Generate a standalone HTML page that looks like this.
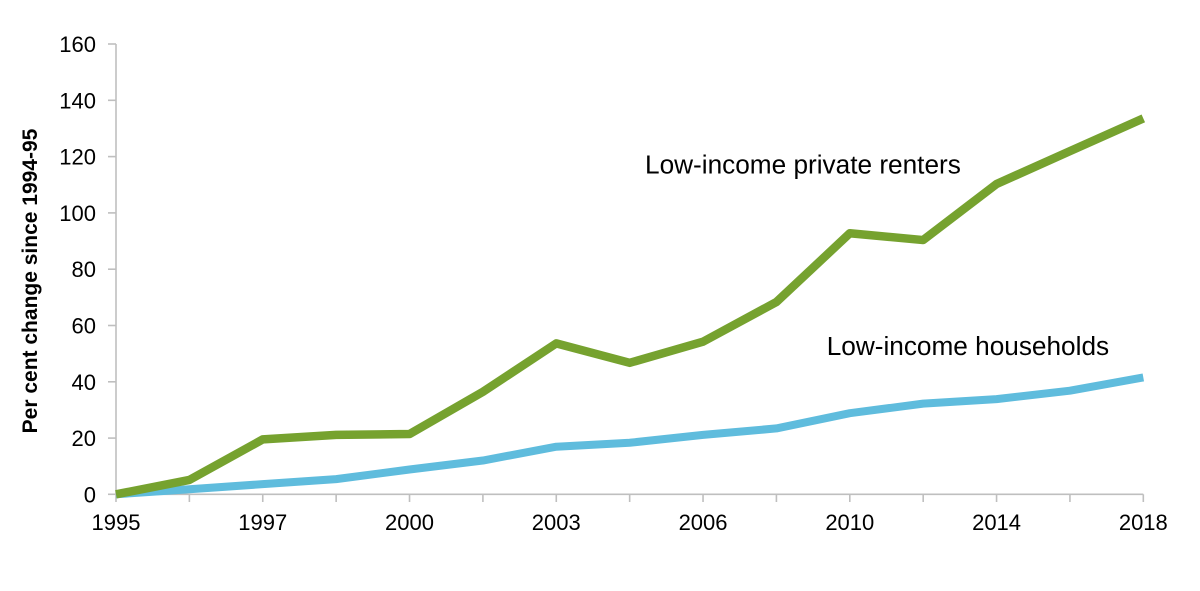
<!DOCTYPE html>
<html>
<head>
<meta charset="utf-8">
<style>
html,body{margin:0;padding:0;background:#fff;}
svg{display:block;}
text{font-family:"Liberation Sans",Arial,sans-serif;fill:#000;}
</style>
</head>
<body>
<svg width="1200" height="591" viewBox="0 0 1200 591" xmlns="http://www.w3.org/2000/svg">
<rect width="1200" height="591" fill="#fff"/>
<!-- axes -->
<g stroke="#BFBFBF" stroke-width="1.6" fill="none">
<line x1="116" y1="44" x2="116" y2="494.3"/>
<line x1="116" y1="494.3" x2="1143.3" y2="494.3"/>
<!-- y ticks -->
<line x1="108" y1="44" x2="116" y2="44"/>
<line x1="108" y1="100.3" x2="116" y2="100.3"/>
<line x1="108" y1="156.6" x2="116" y2="156.6"/>
<line x1="108" y1="212.9" x2="116" y2="212.9"/>
<line x1="108" y1="269.2" x2="116" y2="269.2"/>
<line x1="108" y1="325.5" x2="116" y2="325.5"/>
<line x1="108" y1="381.8" x2="116" y2="381.8"/>
<line x1="108" y1="438.1" x2="116" y2="438.1"/>
<line x1="108" y1="494.3" x2="116" y2="494.3"/>
<!-- x ticks -->
<line x1="116" y1="494.3" x2="116" y2="502"/>
<line x1="189.38" y1="494.3" x2="189.38" y2="502"/>
<line x1="262.76" y1="494.3" x2="262.76" y2="502"/>
<line x1="336.14" y1="494.3" x2="336.14" y2="502"/>
<line x1="409.52" y1="494.3" x2="409.52" y2="502"/>
<line x1="482.9" y1="494.3" x2="482.9" y2="502"/>
<line x1="556.28" y1="494.3" x2="556.28" y2="502"/>
<line x1="629.66" y1="494.3" x2="629.66" y2="502"/>
<line x1="703.04" y1="494.3" x2="703.04" y2="502"/>
<line x1="776.42" y1="494.3" x2="776.42" y2="502"/>
<line x1="849.8" y1="494.3" x2="849.8" y2="502"/>
<line x1="923.18" y1="494.3" x2="923.18" y2="502"/>
<line x1="996.56" y1="494.3" x2="996.56" y2="502"/>
<line x1="1069.94" y1="494.3" x2="1069.94" y2="502"/>
<line x1="1143.32" y1="494.3" x2="1143.32" y2="502"/>
</g>
<!-- y labels -->
<g font-size="22" text-anchor="end">
<text x="96" y="52">160</text>
<text x="96" y="108.3">140</text>
<text x="96" y="164.6">120</text>
<text x="96" y="220.9">100</text>
<text x="96" y="277.2">80</text>
<text x="96" y="333.5">60</text>
<text x="96" y="389.8">40</text>
<text x="96" y="446.1">20</text>
<text x="96" y="502.3">0</text>
</g>
<!-- x labels -->
<g font-size="22" text-anchor="middle">
<text x="116" y="530">1995</text>
<text x="262.76" y="530">1997</text>
<text x="409.52" y="530">2000</text>
<text x="556.28" y="530">2003</text>
<text x="703.04" y="530">2006</text>
<text x="849.8" y="530">2010</text>
<text x="996.56" y="530">2014</text>
<text x="1143.32" y="530">2018</text>
</g>
<!-- y axis title -->
<text transform="translate(37,281) rotate(-90)" font-size="21" font-weight="bold" text-anchor="middle">Per cent change since 1994-95</text>
<!-- series -->
<polyline fill="none" stroke="#5FBCDD" stroke-width="8" stroke-linejoin="round" stroke-linecap="butt"
points="116,494.3 189.38,489.23 262.76,484.16 336.14,479.1 409.52,469.52 482.9,460.51 556.28,446.72 629.66,442.77 703.04,434.89 776.42,428.42 849.8,413.21 923.18,403.64 996.56,399.13 1069.94,390.69 1143.32,377.45"/>
<polyline fill="none" stroke="#76A22F" stroke-width="8.5" stroke-linejoin="round" stroke-linecap="butt"
points="116,494.3 189.38,479.94 262.76,439.4 336.14,434.89 409.52,434.05 482.9,391.81 556.28,343.38 629.66,362.81 703.04,341.69 776.42,301.99 849.8,233.29 923.18,240.05 996.56,184.02 1069.94,151.08 1143.32,118.42"/>
<!-- labels -->
<text x="645" y="173.3" font-size="26.2">Low-income private renters</text>
<text x="826.7" y="355" font-size="26.2">Low-income households</text>
</svg>
</body>
</html>
